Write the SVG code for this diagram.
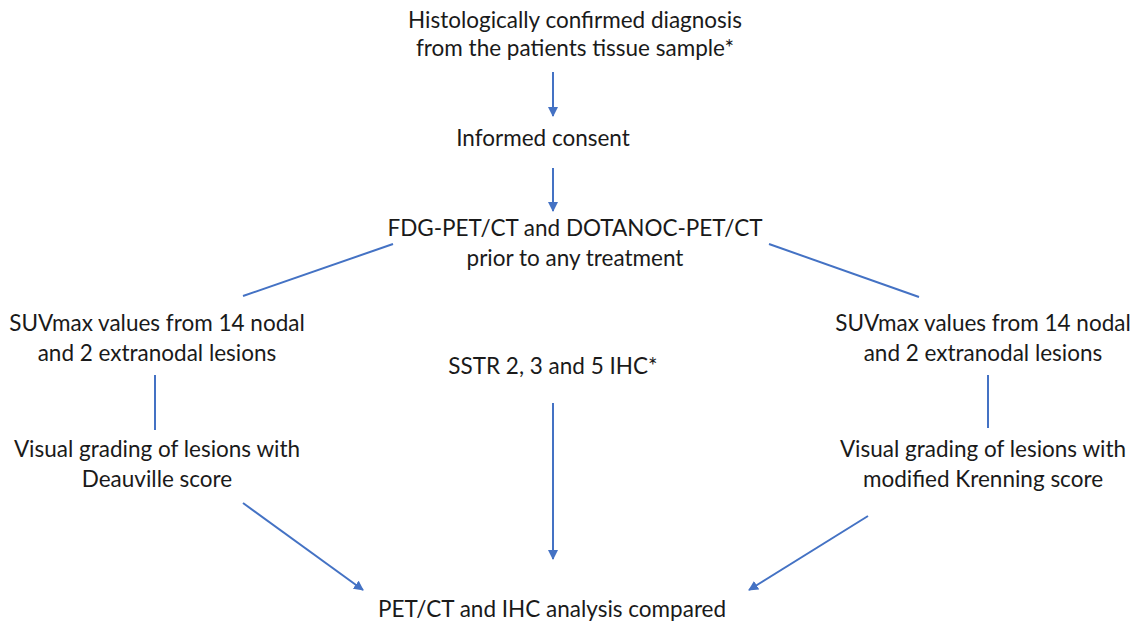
<svg xmlns="http://www.w3.org/2000/svg" width="1144" height="624" viewBox="0 0 1144 624">
<defs>
<marker id="ah" markerWidth="10" markerHeight="10" refX="9" refY="5" orient="auto" markerUnits="userSpaceOnUse">
<path d="M0,0 L10,5 L0,10 Z" fill="#4472C4"/>
</marker>
<style>
text{font-family:"Lato","Open Sans","Liberation Sans",sans-serif;font-size:22.5px;fill:#1a1a1a;text-anchor:middle}
.c{stroke:#4472C4;stroke-width:2;fill:none}
.a{marker-end:url(#ah)}
</style>
</defs>
<rect width="1144" height="624" fill="#ffffff"/>
<g id="n1"><text x="575" y="28">Histologically confirmed diagnosis</text><text x="575" y="56">from the patients tissue sample*</text></g>
<g id="n2"><text x="543" y="146">Informed consent</text></g>
<g id="n3"><text x="575" y="236">FDG-PET/CT and DOTANOC-PET/CT</text><text x="575" y="266">prior to any treatment</text></g>
<g id="n4"><text x="157" y="331">SUVmax values from 14 nodal</text><text x="157" y="361">and 2 extranodal lesions</text></g>
<g id="n5"><text x="157" y="457">Visual grading of lesions with</text><text x="157" y="487">Deauville score</text></g>
<g id="n6"><text x="553" y="374">SSTR 2, 3 and 5 IHC*</text></g>
<g id="n7"><text x="983" y="331">SUVmax values from 14 nodal</text><text x="983" y="361">and 2 extranodal lesions</text></g>
<g id="n8"><text x="983" y="457">Visual grading of lesions with</text><text x="983" y="487">modified Krenning score</text></g>
<g id="n9"><text x="552" y="617">PET/CT and IHC analysis compared</text></g>
<g id="connectors">
<line class="c a" x1="553" y1="72" x2="553" y2="116"/>
<line class="c a" x1="553" y1="168" x2="553" y2="211"/>
<line class="c" x1="393" y1="244" x2="243" y2="296"/>
<line class="c" x1="769" y1="244" x2="919" y2="297"/>
<line class="c" x1="155" y1="375" x2="155" y2="430"/>
<line class="c" x1="988" y1="375" x2="988" y2="428"/>
<line class="c a" x1="553" y1="403" x2="553" y2="559"/>
<line class="c a" x1="243" y1="503" x2="363" y2="590"/>
<line class="c a" x1="868" y1="516" x2="749" y2="590"/>
</g>
</svg>
